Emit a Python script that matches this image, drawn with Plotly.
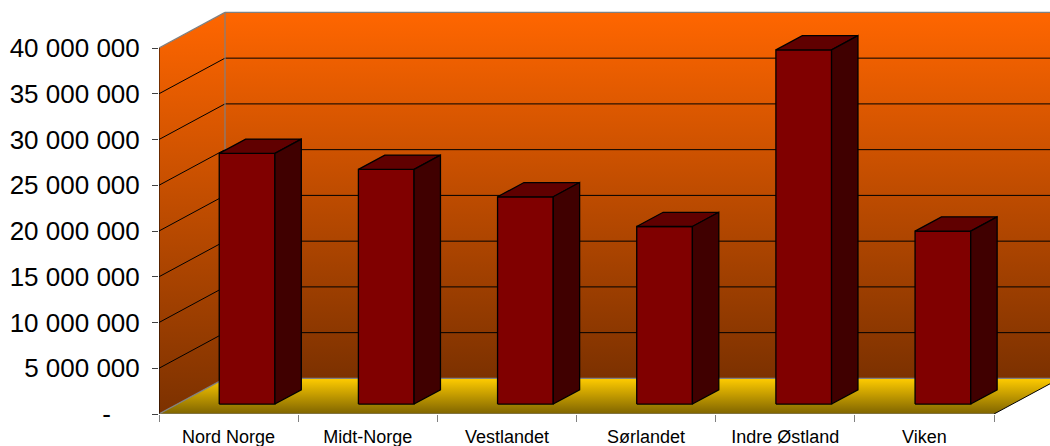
import plotly.graph_objects as go

# ---------------- data ----------------
categories = ["Nord Norge", "Midt-Norge", "Vestlandet", "Sørlandet", "Indre Østland", "Viken"]
values = [27_400_000, 25_650_000, 22_650_000, 19_400_000, 38_700_000, 18_900_000]
y_tick_values = [0, 5_000_000, 10_000_000, 15_000_000, 20_000_000, 25_000_000, 30_000_000, 35_000_000, 40_000_000]
y_tick_labels = ["-\u2007\u2007", "5 000 000", "10 000 000", "15 000 000", "20 000 000",
                 "25 000 000", "30 000 000", "35 000 000", "40 000 000"]

# ---------------- geometry (3D oblique projection in data units) ----------------
W, H = 1050, 446
left_px, bottom_px = 159, 414
cat_px = (994 - 159) / len(categories)          # pixels per category
px_per_unit = (414 - 48) / y_tick_values[-1]     # pixels per value unit
DX = 66 / cat_px                                 # depth offset along x (category units)
DY = 35.6 / px_per_unit                          # depth offset along y (value units)
x_max = (W - left_px) / cat_px
y_max = bottom_px / px_per_unit
ytop = y_tick_values[-1]
n = len(categories)

bar_w = 0.40
d0, d1 = 0.28, 0.68   # bar depth span (fraction of full depth)

fig = go.Figure()

def poly(xs, ys, **kw):
    fig.add_trace(go.Scatter(x=xs + [xs[0]], y=ys + [ys[0]], mode="lines", fill="toself",
                             hoverinfo="skip", showlegend=False, **kw))

def lines(segs, color, width=1):
    xs, ys = [], []
    for (x0, y0, x1, y1) in segs:
        xs += [x0, x1, None]
        ys += [y0, y1, None]
    fig.add_trace(go.Scatter(x=xs, y=ys, mode="lines", line=dict(color=color, width=width),
                             hoverinfo="skip", showlegend=False))

# back wall
poly([DX, n + DX, n + DX, DX], [DY, DY, ytop + DY, ytop + DY],
     line=dict(width=0),
     fillgradient=dict(type="vertical", start=DY, stop=ytop + DY,
                       colorscale=[[0, "#7C3100"], [1, "#FF6600"]]))
# side wall
poly([0, DX, DX, 0], [0, DY, ytop + DY, ytop],
     line=dict(width=0),
     fillgradient=dict(type="vertical", start=0, stop=ytop + DY,
                       colorscale=[[0, "#7C3100"], [1, "#FF6600"]]))
# floor
poly([0, n, n + DX, DX], [0, 0, DY, DY],
     line=dict(width=0),
     fillgradient=dict(type="vertical", start=0, stop=DY,
                       colorscale=[[0, "#7F6400"], [1, "#FFCC00"]]))

# gridlines
grid = []
for v in y_tick_values[1:-1]:
    grid.append((DX, v + DY, n + DX, v + DY))
    grid.append((0, v, DX, v + DY))
lines(grid, "#000000", 1)

# grey edges
edges = [
    (DX, DY, DX, ytop + DY),
    (DX, ytop + DY, n + DX + 1, ytop + DY),
    (0, ytop, DX, ytop + DY),
    (0, 0, DX, DY),
    (DX, DY, n + DX, DY),
    (0, 0, n, 0),
]
lines(edges, "#808080", 1.2)
# black edges: value axis line and floor right edge
lines([(0, 0, 0, ytop), (n, 0, n + DX, DY)], "#000000", 1)

# bars
for i, v in enumerate(values):
    x0 = i + (1 - bar_w) / 2 + d0 * DX
    x1 = x0 + bar_w
    y0 = d0 * DY
    ddx = (d1 - d0) * DX
    ddy = (d1 - d0) * DY
    out = dict(color="#000000", width=1.3)
    poly([x0, x1, x1, x0], [y0, y0, y0 + v, y0 + v], line=out, fillcolor="#800000")
    poly([x0, x1, x1 + ddx, x0 + ddx], [y0 + v, y0 + v, y0 + v + ddy, y0 + v + ddy],
         line=out, fillcolor="#600000")
    poly([x1, x1 + ddx, x1 + ddx, x1], [y0, y0 + ddy, y0 + v + ddy, y0 + v],
         line=out, fillcolor="#400000")

fig.update_layout(
    width=W, height=H,
    margin=dict(l=left_px, r=0, t=0, b=H - bottom_px),
    paper_bgcolor="white", plot_bgcolor="white",
    showlegend=False,
    xaxis=dict(range=[0, x_max], showgrid=False, zeroline=False, showline=False,
               automargin=False,
               tickmode="array", tickvals=[i + 0.5 for i in range(n)], ticktext=categories,
               ticks="", ticklabelstandoff=10,
               tickfont=dict(family="Liberation Sans, Arial, sans-serif", size=18, color="#000000"),
               minor=dict(tickmode="array", tickvals=list(range(n + 1)), ticks="outside",
                          ticklen=7, tickcolor="#808080", tickwidth=1, showgrid=False)),
    yaxis=dict(range=[0, y_max], showgrid=False, zeroline=False, showline=False,
               automargin=False,
               tickmode="array", tickvals=y_tick_values, ticktext=y_tick_labels,
               ticks="outside", ticklen=6, tickcolor="#404040", tickwidth=1,
               ticklabelstandoff=7,
               tickfont=dict(family="Liberation Sans, Arial, sans-serif",
                             size=26, color="#000000")),
)

fig.write_html("out.html",
               config={"displayModeBar": False},
               post_script="document.body.style.margin='0';document.body.style.padding='0';"
                           "document.documentElement.style.overflow='hidden';")
